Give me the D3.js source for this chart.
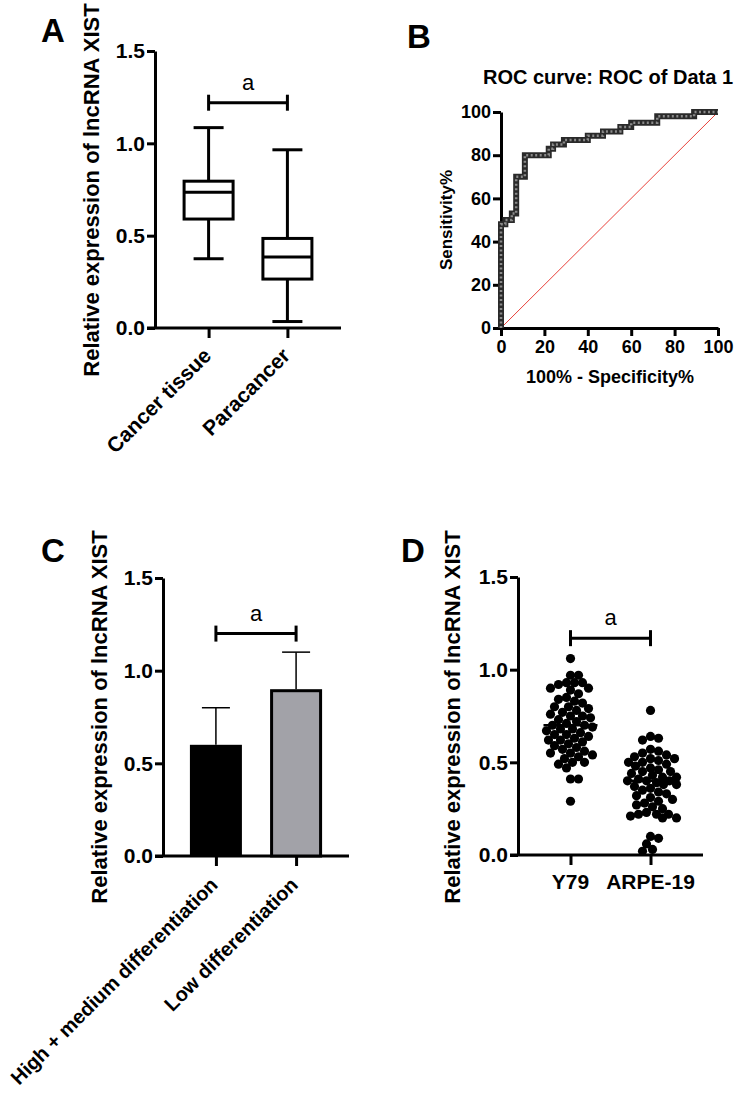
<!DOCTYPE html>
<html>
<head>
<meta charset="utf-8">
<style>
body { margin: 0; background: #fff; }
svg text { font-family: "Liberation Sans", Arial, Helvetica, sans-serif; font-weight: bold; fill: #000; }
.axis path, .axis line { stroke: #000; stroke-width: 3; }
.axis text { font-size: 21px; }
</style>
</head>
<body>
<svg width="735" height="1094"></svg>
<script src="https://d3js.org/d3.v7.min.js"></script>
<script>
// ---- data ----
var yTicks = [0, 0.5, 1.0, 1.5];

// A: box plots
var boxGroups = ["Cancer tissue", "Paracancer"];
var boxMin = [0.375, 0.035];
var boxQ1 = [0.59, 0.265];
var boxMedian = [0.735, 0.385];
var boxQ3 = [0.795, 0.485];
var boxMax = [1.085, 0.965];
var boxSig = 1.22;

// B: ROC curve (corner points of the step line)
var rocFpr = [0, 0, 2, 2, 5, 5, 7, 7, 11, 11, 22, 22, 24, 24, 29, 29, 40, 40, 47, 47, 55, 55, 60, 60, 72, 72, 89, 89, 100];
var rocTpr = [0, 48, 48, 50, 50, 53, 53, 70, 70, 80, 80, 83, 83, 85, 85, 87, 87, 89, 89, 91, 91, 93, 93, 95, 95, 98, 98, 100, 100];
var rocTicks = [0, 20, 40, 60, 80, 100];

// C: bars
var barGroups = ["High + medium differentiation", "Low differentiation"];
var barMeans = [0.60, 0.90];
var barSD = [0.20, 0.20];
var barSig = 1.20;

// D: scatter
var dotGroups = ["Y79", "ARPE-19"];
var y79Values = [1.06, 0.97, 0.97, 0.93, 0.93, 0.92, 0.93, 0.90, 0.90, 0.89, 0.87, 0.85, 0.84, 0.83, 0.82,
  0.80, 0.80, 0.79, 0.78, 0.77, 0.76, 0.75, 0.75, 0.74, 0.73, 0.72, 0.71, 0.70, 0.70, 0.69, 0.68, 0.68,
  0.67, 0.66, 0.65, 0.65, 0.64, 0.63, 0.62, 0.62, 0.61, 0.60, 0.59, 0.58, 0.57, 0.56, 0.55, 0.55, 0.54,
  0.53, 0.52, 0.50, 0.50, 0.49, 0.47, 0.41, 0.41, 0.29];
var arpeValues = [0.78, 0.64, 0.63, 0.62, 0.57, 0.56, 0.55, 0.54, 0.53, 0.52, 0.52, 0.51, 0.50, 0.50, 0.49,
  0.48, 0.47, 0.46, 0.45, 0.45, 0.44, 0.43, 0.42, 0.42, 0.41, 0.40, 0.40, 0.40, 0.39, 0.38, 0.38, 0.37,
  0.36, 0.35, 0.34, 0.33, 0.32, 0.31, 0.30, 0.29, 0.28, 0.27, 0.26, 0.25, 0.23, 0.22, 0.22, 0.22, 0.21,
  0.20, 0.20, 0.10, 0.09, 0.06, 0.03, 0.02];
var dotMeans = [0.70, 0.40];
var dotSig = 1.17;

var yTitle = "Relative expression of lncRNA XIST";

var svg = d3.select("svg");

// common frame for panels A, C, D
function frame(ax, y0, y1, xEnd, cats, pad) {
  var y = d3.scaleLinear().domain([0, 1.5]).range([y0, y1]);
  var x = d3.scalePoint().domain(cats).range([ax, xEnd]).padding(pad);
  svg.append("g").attr("class", "axis")
    .attr("transform", "translate(" + ax + ",0)")
    .call(d3.axisLeft(y).tickValues(yTicks).tickFormat(d3.format(".1f")).tickSize(8).tickSizeOuter(0).tickPadding(2));
  var gx = svg.append("g").attr("class", "axis")
    .attr("transform", "translate(0," + y0 + ")")
    .call(d3.axisBottom(x).tickSize(10).tickSizeOuter(0));
  gx.select(".domain").attr("d", "M" + (ax - 8) + ",0H" + xEnd);
  gx.selectAll(".tick text").remove();
  return {x: x, y: y};
}

function sigBar(x, y, cats, level) {
  var yy = y(level), x1 = x(cats[0]), x2 = x(cats[1]);
  var g = svg.append("g").attr("stroke", "#000").attr("stroke-width", 3);
  g.append("line").attr("x1", x1).attr("x2", x2).attr("y1", yy).attr("y2", yy);
  g.append("line").attr("x1", x1).attr("x2", x1).attr("y1", yy - 8).attr("y2", yy + 8);
  g.append("line").attr("x1", x2).attr("x2", x2).attr("y1", yy - 8).attr("y2", yy + 8);
  svg.append("text").attr("x", (x1 + x2) / 2).attr("y", yy - 13)
    .attr("text-anchor", "middle").style("font-weight", "normal").style("font-size", "22px").text("a");
}

function vTitle(tx, ty, txt, size) {
  svg.append("text").attr("transform", "translate(" + tx + "," + ty + ") rotate(-90)")
    .attr("text-anchor", "middle").style("font-size", size + "px").text(txt);
}

function panelLabel(px, py, t) {
  svg.append("text").attr("x", px).attr("y", py).style("font-size", "33px").text(t);
}

// ---------- A ----------
panelLabel(41, 42, "A");
var A = frame(155, 328, 51, 341, boxGroups, 0.68);
vTitle(99, 190, yTitle, 22);
var bw = 49, cw = 30;
boxGroups.forEach(function(c, i) {
  var cx = A.x(c);
  var g = svg.append("g").attr("stroke", "#000").attr("stroke-width", 3).attr("fill", "none");
  g.append("line").attr("x1", cx).attr("x2", cx).attr("y1", A.y(boxMax[i])).attr("y2", A.y(boxQ3[i]));
  g.append("line").attr("x1", cx).attr("x2", cx).attr("y1", A.y(boxQ1[i])).attr("y2", A.y(boxMin[i]));
  g.append("line").attr("x1", cx - cw / 2).attr("x2", cx + cw / 2).attr("y1", A.y(boxMax[i])).attr("y2", A.y(boxMax[i]));
  g.append("line").attr("x1", cx - cw / 2).attr("x2", cx + cw / 2).attr("y1", A.y(boxMin[i])).attr("y2", A.y(boxMin[i]));
  g.append("rect").attr("x", cx - bw / 2).attr("width", bw)
    .attr("y", A.y(boxQ3[i])).attr("height", A.y(boxQ1[i]) - A.y(boxQ3[i]));
  g.append("line").attr("x1", cx - bw / 2).attr("x2", cx + bw / 2).attr("y1", A.y(boxMedian[i])).attr("y2", A.y(boxMedian[i]));
  svg.append("text").attr("transform", "translate(" + (cx + 4) + "," + 357 + ") rotate(-45)")
    .attr("text-anchor", "end").style("font-size", "21px").text(c);
});
sigBar(A.x, A.y, boxGroups, boxSig);

// ---------- B ----------
panelLabel(407, 48, "B");
var bx = d3.scaleLinear().domain([0, 100]).range([501, 718]);
var by = d3.scaleLinear().domain([0, 100]).range([328, 112]);
svg.append("text").attr("x", 608).attr("y", 84).attr("text-anchor", "middle").style("font-size", "20px")
  .text("ROC curve: ROC of Data 1");
svg.append("g").attr("class", "axis").attr("transform", "translate(501,0)")
  .call(d3.axisLeft(by).tickValues(rocTicks).tickSize(8).tickSizeOuter(0).tickPadding(2))
  .selectAll("text").style("font-size", "18px");
svg.append("g").attr("class", "axis").attr("transform", "translate(0,328)")
  .call(d3.axisBottom(bx).tickValues(rocTicks).tickSize(8).tickSizeOuter(0).tickPadding(4))
  .selectAll("text").style("font-size", "18px");
vTitle(452, 220, "Sensitivity%", 17);
svg.append("text").attr("x", 610).attr("y", 383).attr("text-anchor", "middle").style("font-size", "18px")
  .text("100% - Specificity%");
svg.append("line").attr("x1", bx(0)).attr("y1", by(0)).attr("x2", bx(100)).attr("y2", by(100))
  .attr("stroke", "#e8413a").attr("stroke-width", 1);
var rocLine = d3.line().x(function(d) { return bx(d[0]); }).y(function(d) { return by(d[1]); });
var rocPts = d3.zip(rocFpr, rocTpr);
svg.append("path").attr("d", rocLine(rocPts)).attr("fill", "none").attr("stroke", "#2a2a2a").attr("stroke-width", 6);
svg.append("path").attr("d", rocLine(rocPts)).attr("fill", "none").attr("stroke", "#8a8a8a")
  .attr("stroke-width", 2.5).attr("stroke-dasharray", "2,2.5");

// ---------- C ----------
panelLabel(41, 562, "C");
var C = frame(163, 856, 578, 349, barGroups, 0.66);
vTitle(107, 717, yTitle, 22);
var barW = 52;
barGroups.forEach(function(c, i) {
  var cx = C.x(c);
  var top = C.y(barMeans[i]), eb = C.y(barMeans[i] + barSD[i]);
  svg.append("line").attr("x1", cx).attr("x2", cx).attr("y1", eb).attr("y2", top)
    .attr("stroke", "#000").attr("stroke-width", 1.5);
  svg.append("line").attr("x1", cx - 14).attr("x2", cx + 14).attr("y1", eb).attr("y2", eb)
    .attr("stroke", "#000").attr("stroke-width", 1.5);
  if (i === 0) {
    svg.append("rect").attr("x", cx - barW / 2).attr("width", barW).attr("y", top)
      .attr("height", C.y(0) - top).attr("fill", "#000");
  } else {
    svg.append("rect").attr("x", cx - barW / 2 + 1.5).attr("width", barW - 3).attr("y", top + 1.5)
      .attr("height", C.y(0) - top - 1.5).attr("fill", "#a2a2a8").attr("stroke", "#000").attr("stroke-width", 3);
  }
  svg.append("text").attr("transform", "translate(" + (cx + 3) + "," + 886 + ") rotate(-45)")
    .attr("text-anchor", "end").style("font-size", "20px").text(c);
});
sigBar(C.x, C.y, barGroups, barSig);

// ---------- D ----------
panelLabel(401, 562, "D");
var D = frame(518, 855, 577, 703, dotGroups, 0.656);
vTitle(460, 717, yTitle, 22);

// simple beeswarm so that points do not stack on top of each other
function swarm(values, cx, y, minD, maxOff) {
  var placed = [];
  values.slice().sort(function(a, b) { return b - a; }).forEach(function(v) {
    var py = y(v), best = 0, bestScore = -1;
    for (var k = 0; k <= maxOff * 2; k++) {
      var off = (k % 2 ? 1 : -1) * Math.ceil(k / 2);
      var px = cx + off, md = Infinity;
      placed.forEach(function(p) {
        var d = Math.hypot(p[0] - px, p[1] - py);
        if (d < md) md = d;
      });
      if (md >= minD) { best = off; bestScore = Infinity; break; }
      if (md > bestScore) { bestScore = md; best = off; }
    }
    placed.push([cx + best, py]);
  });
  return placed;
}
[y79Values, arpeValues].forEach(function(vals, i) {
  var cx = D.x(dotGroups[i]);
  svg.append("g").selectAll("circle").data(swarm(vals, cx, D.y, 8, 26)).enter()
    .append("circle").attr("cx", function(d) { return d[0]; }).attr("cy", function(d) { return d[1]; })
    .attr("r", 4.6).attr("fill", "#000");
  svg.append("line").attr("x1", cx - 27).attr("x2", cx + 27)
    .attr("y1", D.y(dotMeans[i])).attr("y2", D.y(dotMeans[i])).attr("stroke", "#000").attr("stroke-width", 2.5);
  svg.append("text").attr("x", cx).attr("y", 889).attr("text-anchor", "middle").style("font-size", "21px")
    .text(dotGroups[i]);
});
sigBar(D.x, D.y, dotGroups, dotSig);
</script>
</body>
</html>
